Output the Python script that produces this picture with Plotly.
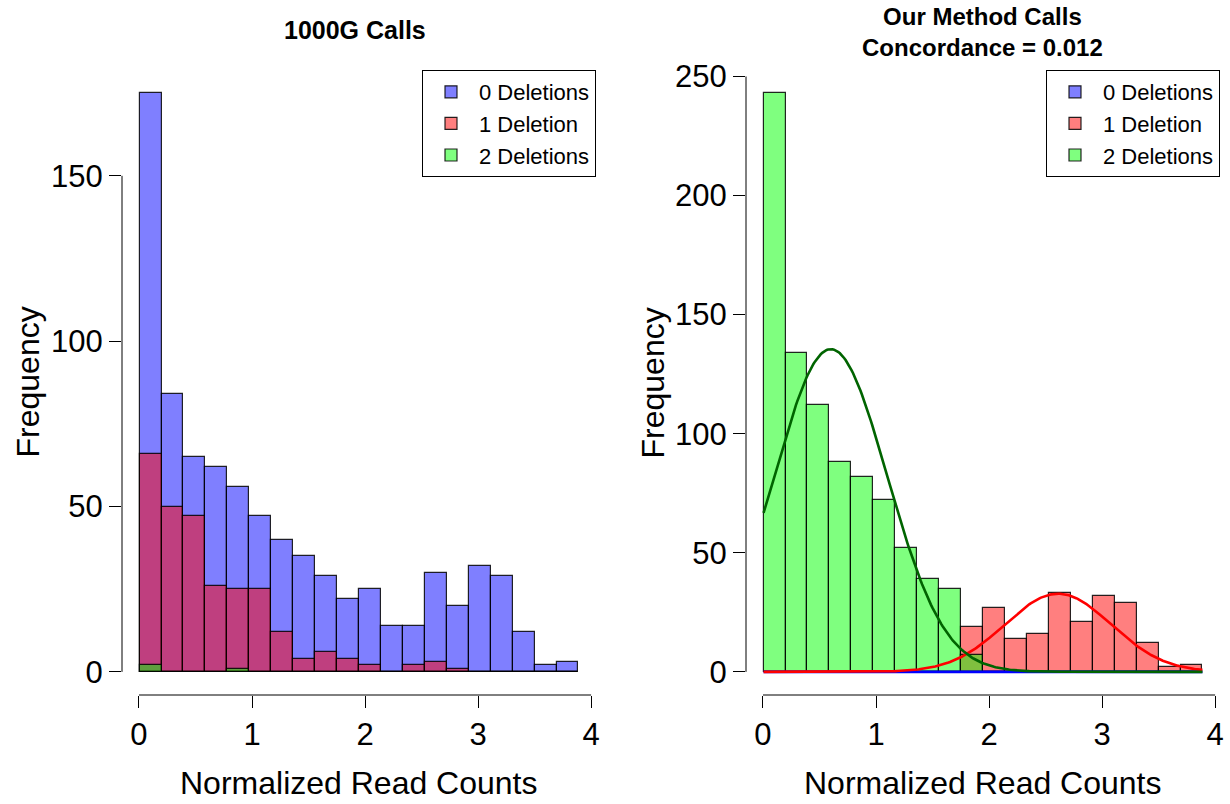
import numpy as np
import plotly.graph_objects as go

# ---------------- data ----------------
bin_lo, bin_hi, n_bins = 0.005, 3.888, 20
bin_edges = np.linspace(bin_lo, bin_hi, n_bins + 1)
bin_width = bin_edges[1] - bin_edges[0]
bin_centers = (bin_edges[:-1] + bin_edges[1:]) / 2

series_names = ["0 Deletions", "1 Deletion", "2 Deletions"]

# Left panel: 1000G calls
g1000_zero = [175, 84, 65, 62, 56, 47, 40, 35, 29, 22, 25, 14, 14, 30, 20, 32, 29, 12, 2, 3]
g1000_one = [66, 50, 47, 26, 25, 25, 12, 4, 6, 4, 2, 0, 2, 3, 1, 0, 0, 0, 0, 0]
g1000_two = [2, 0, 0, 0, 1, 0, 0, 0, 0, 0, 0, 0, 0, 0, 0, 0, 0, 0, 0, 0]

# Right panel: our method calls
our_zero = [0] * 20
our_one = [0, 0, 0, 0, 0, 0, 0, 0, 0, 19, 27, 14, 16, 33, 21, 32, 29, 12, 2, 3]
our_two = [243, 134, 112, 88, 82, 72, 52, 39, 35, 7, 0, 0, 0, 0, 0, 0, 0, 0, 0, 0]

# fitted normal curves (mean, sd, peak height in counts)
fit_zero = (1.0, 0.5, 0.0)
fit_one = (2.61, 0.47, 32.8)
fit_two = (0.60, 0.50, 135.5)

x_ticks = [0, 1, 2, 3, 4]
left_y_ticks = [0, 50, 100, 150]
right_y_ticks = [0, 50, 100, 150, 200, 250]

left_title = "1000G Calls"
right_title = "Our Method Calls<br>Concordance = 0.012"
x_title = "Normalized Read Counts"
y_title = "Frequency"

# ---------------- styling ----------------
FONT = "Liberation Sans, Arial, Helvetica, sans-serif"
fills = ["rgba(0,0,255,0.5)", "rgba(255,0,0,0.5)", "rgba(0,255,0,0.5)"]
line_cols = ["#0000ff", "#ff0000", "#006400"]

W, H = 1230, 804
plot_top, plot_bot = 70, 695
left_px = (122, 596)
right_px = (746, 1220)
ydom = [(H - plot_bot) / H, (H - plot_top) / H]
xdom_l = [left_px[0] / W, left_px[1] / W]
xdom_r = [right_px[0] / W, right_px[1] / W]
span = bin_hi - bin_lo
xrange = [bin_lo - 0.04 * span, bin_hi + 0.04 * span]
yr_l = [-0.04 * max(g1000_zero), 1.04 * max(g1000_zero)]
yr_r = [-0.04 * max(our_two), 1.04 * max(our_two)]

fig = go.Figure()

for vals, name, col in zip([g1000_zero, g1000_one, g1000_two], series_names, fills):
    fig.add_trace(go.Bar(
        x=bin_centers, y=vals, width=bin_width, name=name,
        marker=dict(color=col, line=dict(color="rgba(0,0,0,0.85)", width=1.2)),
        xaxis="x", yaxis="y", legend="legend",
    ))

for vals, name, col in zip([our_zero, our_one, our_two], series_names, fills):
    fig.add_trace(go.Bar(
        x=bin_centers, y=vals, width=bin_width, name=name,
        marker=dict(color=col, line=dict(color="rgba(0,0,0,0.85)", width=1.2)),
        xaxis="x2", yaxis="y2", legend="legend2",
    ))

xc = np.linspace(bin_lo, bin_hi, 300)
for (mu, sd, pk), col in zip([fit_zero, fit_one, fit_two], line_cols):
    yc = pk * np.exp(-((xc - mu) ** 2) / (2 * sd ** 2))
    fig.add_trace(go.Scatter(
        x=xc, y=yc, mode="lines", line=dict(color=col, width=2.6),
        showlegend=False, xaxis="x2", yaxis="y2", hoverinfo="skip",
    ))

axis_common = dict(
    showgrid=False, zeroline=False, showline=False, ticks="outside",
    ticklen=12, tickwidth=1, tickcolor="black", automargin=False,
    tickfont=dict(family=FONT, size=31, color="black"),
)

legend_common = dict(
    xanchor="right", yanchor="top", y=ydom[1],
    bgcolor="white", bordercolor="black", borderwidth=1,
    font=dict(family=FONT, size=22, color="black"),
    tracegroupgap=0, itemclick=False, itemwidth=46,
)

fig.update_layout(
    width=W, height=H, autosize=False,
    margin=dict(l=0, r=0, t=0, b=0, pad=0),
    paper_bgcolor="white", plot_bgcolor="white",
    barmode="overlay", bargap=0,
    font=dict(family=FONT, color="black"),
    xaxis=dict(domain=xdom_l, range=xrange, anchor="y", tickvals=x_ticks, **axis_common),
    yaxis=dict(domain=ydom, range=yr_l, anchor="x", tickvals=left_y_ticks, **axis_common),
    xaxis2=dict(domain=xdom_r, range=xrange, anchor="y2", tickvals=x_ticks, **axis_common),
    yaxis2=dict(domain=ydom, range=yr_r, anchor="x2", tickvals=right_y_ticks, **axis_common),
    legend=dict(x=xdom_l[1], **legend_common),
    legend2=dict(x=xdom_r[1], **legend_common),
)

# R-style axis lines that span only the tick range
for xa, ya, yt in [("x", "y", left_y_ticks), ("x2", "y2", right_y_ticks)]:
    fig.add_shape(type="line", xref=xa, yref=f"{ya} domain",
                  x0=x_ticks[0], x1=x_ticks[-1], y0=0, y1=0,
                  line=dict(color="black", width=1))
    fig.add_shape(type="line", xref=f"{xa} domain", yref=ya,
                  x0=0, x1=0, y0=yt[0], y1=yt[-1],
                  line=dict(color="black", width=1))

# titles
fig.add_annotation(text=f"<b>{left_title}</b>", xref="paper", yref="paper",
                   x=sum(xdom_l) / 2 - 4 / W, y=(H - 30) / H, showarrow=False,
                   xanchor="center", yanchor="middle",
                   font=dict(family=FONT, size=25, color="black"))
fig.add_annotation(text=f"<b>{right_title}</b>", xref="paper", yref="paper",
                   x=sum(xdom_r) / 2, y=(H - 32) / H, showarrow=False,
                   xanchor="center", yanchor="middle",
                   font=dict(family=FONT, size=24, color="black"))

for xd, ycx in [(xdom_l, 27), (xdom_r, 652)]:
    fig.add_annotation(text=x_title, xref="paper", yref="paper",
                       x=sum(xd) / 2, y=(H - 783) / H, showarrow=False,
                       xanchor="center", yanchor="middle",
                       font=dict(family=FONT, size=32, color="black"))
    fig.add_annotation(text=y_title, xref="paper", yref="paper",
                       x=ycx / W, y=sum(ydom) / 2, showarrow=False, textangle=-90,
                       xanchor="center", yanchor="middle",
                       font=dict(family=FONT, size=32, color="black"))

fig.write_html("out.html")
